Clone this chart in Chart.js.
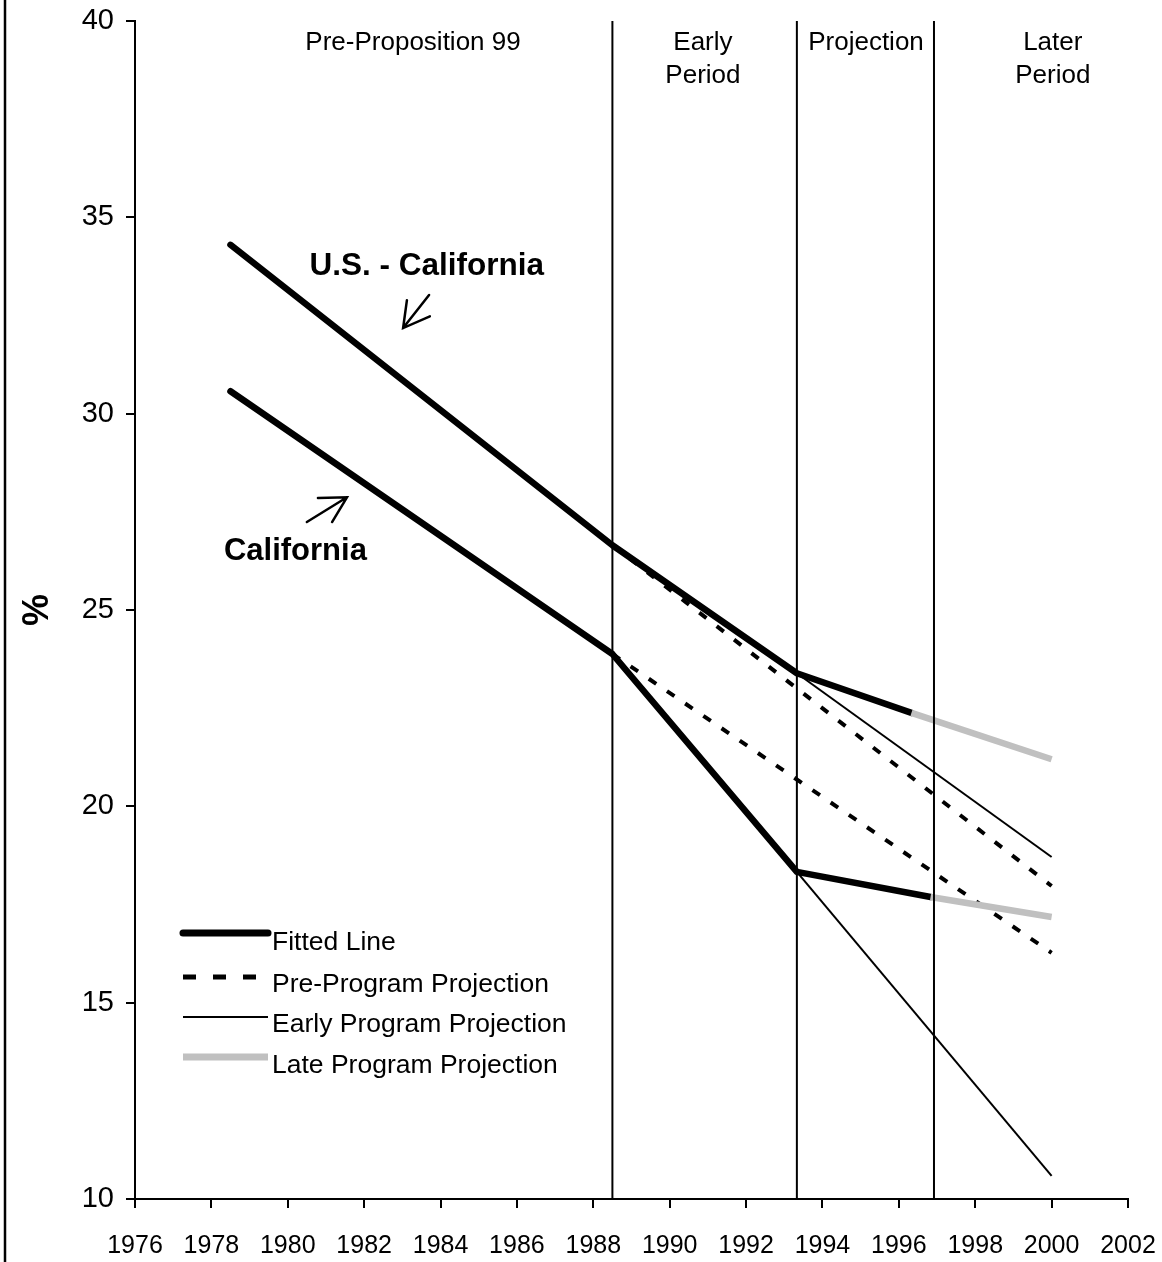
<!DOCTYPE html>
<html>
<head>
<meta charset="utf-8">
<script src="https://cdn.jsdelivr.net/npm/chart.js@4.4.1/dist/chart.umd.min.js"></script>
<style>
  html, body { margin: 0; padding: 0; background: #fff; }
</style>
</head>
<body>
<canvas id="lineChart" width="1162" height="1262"></canvas>
<script>
// axis ticks
const xTickYears = [1976, 1978, 1980, 1982, 1984, 1986, 1988, 1990, 1992, 1994, 1996, 1998, 2000, 2002];
const yTickValues = [10, 15, 20, 25, 30, 35, 40];

// period boundaries (years)
const periodBreaks = [1988.5, 1993.33, 1996.92];
const periodNames = [['Pre-Proposition 99'], ['Early', 'Period'], ['Projection'], ['Later', 'Period']];

// U.S. - California
const usCalFittedYears = [1978.5, 1988.5, 1993.33, 1996.33];
const usCalFittedVals = [34.3, 26.65, 23.39, 22.38];
const usCalPreYears = [1988.5, 2000];
const usCalPreVals = [26.65, 17.97];
const usCalEarlyYears = [1993.33, 2000];
const usCalEarlyVals = [23.39, 18.71];
const usCalLateYears = [1996.33, 2000];
const usCalLateVals = [22.38, 21.2];

// California
const calFittedYears = [1978.5, 1988.5, 1993.33, 1996.83];
const calFittedVals = [30.57, 23.88, 18.33, 17.69];
const calPreYears = [1988.5, 2000];
const calPreVals = [23.88, 16.27];
const calEarlyYears = [1993.33, 2000];
const calEarlyVals = [18.33, 10.59];
const calLateYears = [1996.83, 2000];
const calLateVals = [17.69, 17.18];

const legendLabels = ['Fitted Line', 'Pre-Program Projection', 'Early Program Projection', 'Late Program Projection'];

const fontFam = '"Liberation Sans", Arial, Helvetica, sans-serif';
Chart.defaults.font.family = fontFam;
Chart.defaults.color = '#000';

function pts(xs, ys) {
  return xs.map((x, i) => ({ x: x, y: ys[i] }));
}

const styles = {
  fitted: { borderColor: '#000', borderWidth: 6.5, borderCapStyle: 'round', borderJoinStyle: 'round' },
  pre: { borderColor: '#000', borderWidth: 4, borderDash: [9, 13] },
  early: { borderColor: '#000', borderWidth: 2 },
  late: { borderColor: '#c0c0c0', borderWidth: 6.5 }
};

function line(label, data, style) {
  return Object.assign({
    label: label,
    data: data,
    showLine: true,
    fill: false,
    tension: 0,
    pointRadius: 0,
    pointHoverRadius: 0
  }, style);
}

const datasets = [];
periodBreaks.forEach(yr => {
  datasets.push(line('period', [{ x: yr, y: 10 }, { x: yr, y: 40 }], { borderColor: '#000', borderWidth: 2 }));
});
datasets.push(line('Early Program Projection', pts(usCalEarlyYears, usCalEarlyVals), styles.early));
datasets.push(line('Early Program Projection', pts(calEarlyYears, calEarlyVals), styles.early));
datasets.push(line('Late Program Projection', pts(usCalLateYears, usCalLateVals), styles.late));
datasets.push(line('Late Program Projection', pts(calLateYears, calLateVals), styles.late));
datasets.push(line('Fitted Line', pts(usCalFittedYears, usCalFittedVals), styles.fitted));
datasets.push(line('Fitted Line', pts(calFittedYears, calFittedVals), styles.fitted));
datasets.push(line('Pre-Program Projection', pts(usCalPreYears, usCalPreVals), styles.pre));
datasets.push(line('Pre-Program Projection', pts(calPreYears, calPreVals), styles.pre));

// left frame line of the picture
const framePlugin = {
  id: 'frame',
  beforeDraw(chart) {
    const ctx = chart.ctx;
    ctx.save();
    ctx.strokeStyle = '#000';
    ctx.lineWidth = 2.5;
    ctx.beginPath();
    ctx.moveTo(5, 0);
    ctx.lineTo(5, chart.height);
    ctx.stroke();
    ctx.restore();
  }
};

// period titles, series labels with arrows, legend
const notesPlugin = {
  id: 'notes',
  afterDraw(chart) {
    const ctx = chart.ctx;
    const xs = chart.scales.x, ys = chart.scales.y;
    const X = v => xs.getPixelForValue(v);
    const Y = v => ys.getPixelForValue(v);
    ctx.save();
    ctx.fillStyle = '#000';
    ctx.strokeStyle = '#000';

    // period titles
    const titleX = [1983.28, 1990.87, 1995.14, 2000.03];
    ctx.font = '26px ' + fontFam;
    ctx.textAlign = 'center';
    ctx.textBaseline = 'alphabetic';
    periodNames.forEach((lines, i) => {
      lines.forEach((t, j) => {
        ctx.fillText(t, X(titleX[i]), Y(39.25) + j * 33);
      });
    });

    // series labels
    ctx.font = 'bold 31.5px ' + fontFam;
    ctx.fillText('U.S. - California', X(1983.64), Y(33.54));
    ctx.font = 'bold 31px ' + fontFam;
    ctx.fillText('California', X(1980.2), Y(26.27));

    // open arrows
    function arrow(tail, tip, w1, w2) {
      ctx.lineWidth = 2.5;
      ctx.lineCap = 'round';
      ctx.beginPath();
      ctx.moveTo(X(tail[0]), Y(tail[1]));
      ctx.lineTo(X(tip[0]), Y(tip[1]));
      ctx.moveTo(X(w1[0]), Y(w1[1]));
      ctx.lineTo(X(tip[0]), Y(tip[1]));
      ctx.lineTo(X(w2[0]), Y(w2[1]));
      ctx.stroke();
    }
    arrow([1983.70, 33.02], [1983.02, 32.18], [1983.12, 32.89], [1983.72, 32.48]);
    arrow([1980.50, 27.24], [1981.55, 27.87], [1980.79, 27.85], [1981.16, 27.24]);

    // legend
    const lx0 = 183, lx1 = 268;
    const rowY = [933, 977, 1017, 1057];
    const baseY = [950, 992, 1032, 1073];
    const legendStyles = [styles.fitted, styles.pre, styles.early, styles.late];
    ctx.textAlign = 'left';
    ctx.textBaseline = 'alphabetic';
    ctx.font = '26.5px ' + fontFam;
    legendStyles.forEach((st, i) => {
      ctx.save();
      ctx.strokeStyle = st.borderColor;
      ctx.lineWidth = i === 0 || i === 3 ? 7 : (i === 1 ? 5 : 2);
      ctx.lineCap = i === 0 ? 'round' : 'butt';
      if (i === 1) ctx.setLineDash([13, 17]);
      ctx.beginPath();
      ctx.moveTo(lx0, rowY[i]);
      ctx.lineTo(lx1, rowY[i]);
      ctx.stroke();
      ctx.restore();
      ctx.fillText(legendLabels[i], 272, baseY[i]);
    });
    ctx.restore();
  }
};

new Chart(document.getElementById('lineChart').getContext('2d'), {
  type: 'scatter',
  data: { datasets: datasets },
  options: {
    responsive: false,
    animation: false,
    events: [],
    layout: { padding: { top: 21, right: 34, left: 0, bottom: 0 } },
    plugins: {
      legend: { display: false },
      tooltip: { enabled: false }
    },
    scales: {
      x: {
        type: 'linear',
        min: xTickYears[0],
        max: xTickYears[xTickYears.length - 1],
        afterBuildTicks: s => { s.ticks = xTickYears.map(v => ({ value: v })); },
        ticks: {
          font: { size: 25 },
          color: '#000',
          padding: 23,
          maxRotation: 0,
          autoSkip: false,
          callback: v => String(v)
        },
        grid: { drawOnChartArea: false, drawTicks: true, tickLength: 9, color: '#000', lineWidth: 2 },
        border: { display: true, color: '#000', width: 2 },
        afterFit: s => { s.height = 63; s.paddingLeft = 0; s.paddingRight = 0; }
      },
      y: {
        type: 'linear',
        min: yTickValues[0],
        max: yTickValues[yTickValues.length - 1],
        afterBuildTicks: s => { s.ticks = yTickValues.map(v => ({ value: v })); },
        ticks: {
          font: { size: 29 },
          color: '#000',
          padding: 12,
          callback: v => String(v)
        },
        grid: { drawOnChartArea: false, drawTicks: true, tickLength: 9, color: '#000', lineWidth: 2 },
        border: { display: true, color: '#000', width: 2 },
        title: {
          display: true,
          text: '%',
          color: '#000',
          font: { size: 36, weight: 'bold' },
          padding: { top: 16, bottom: 0 }
        },
        afterFit: s => { s.width = 135; s.paddingTop = 0; s.paddingBottom = 0; }
      }
    }
  },
  plugins: [framePlugin, notesPlugin]
});
</script>
</body>
</html>
